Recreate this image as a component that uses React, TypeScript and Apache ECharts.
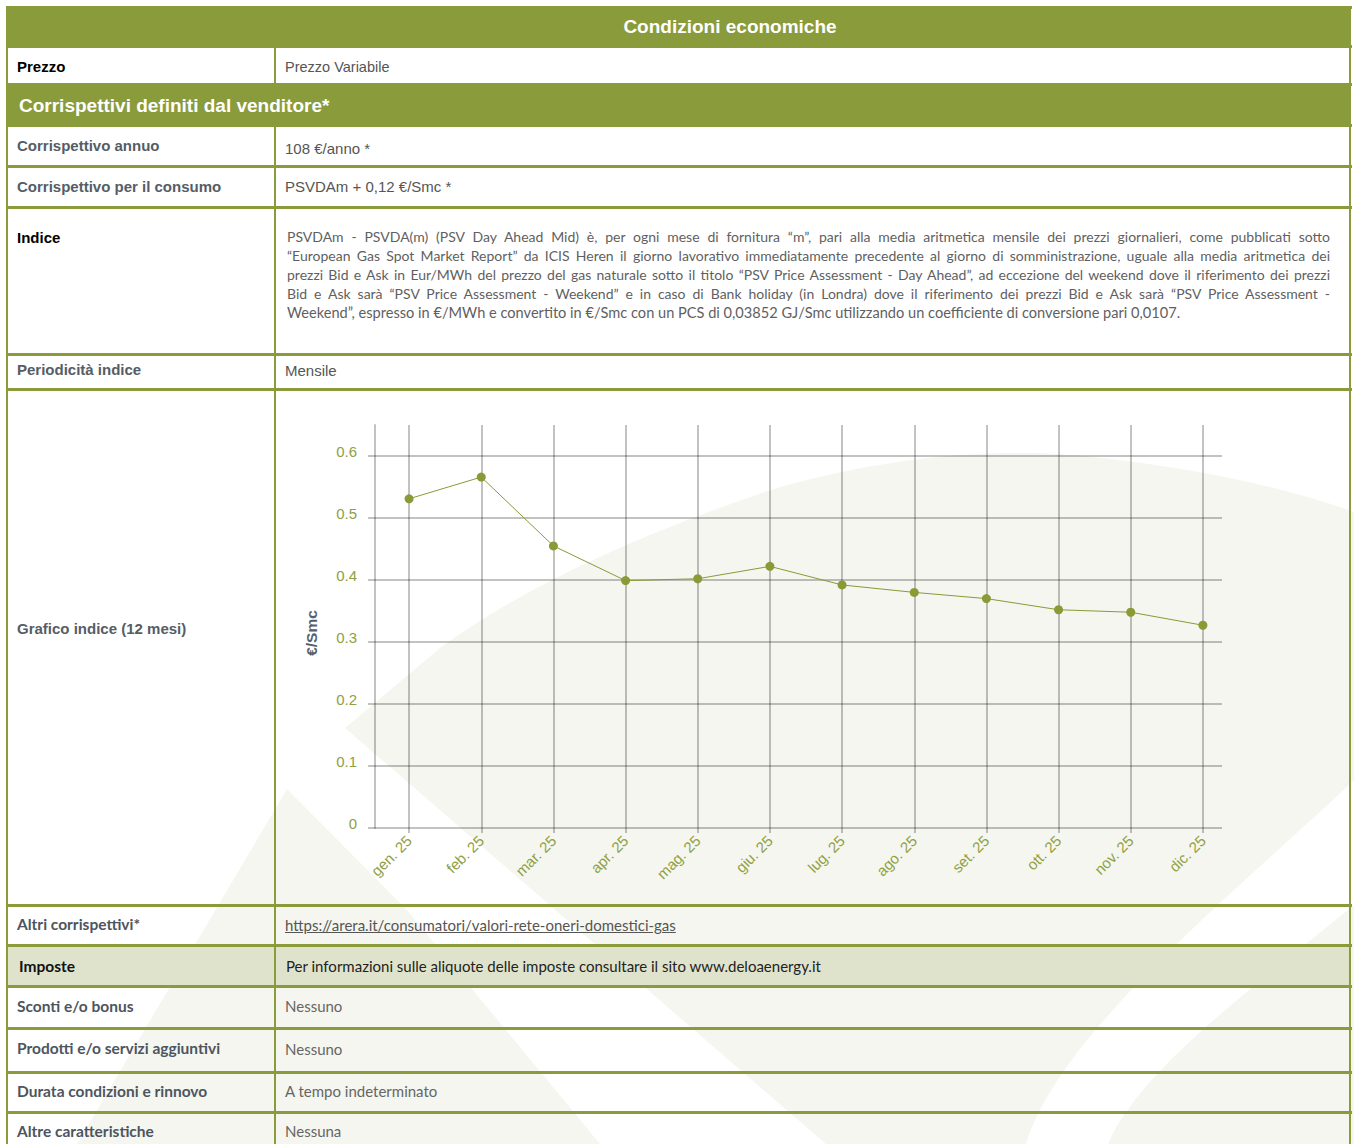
import React, { useEffect, useRef } from "react";
import * as echarts from "echarts";

// ---------- chart data ----------
const months = ["gen. 25", "feb. 25", "mar. 25", "apr. 25", "mag. 25", "giu. 25", "lug. 25", "ago. 25", "set. 25", "ott. 25", "nov. 25", "dic. 25"];
const psvValues = [0.531, 0.566, 0.455, 0.399, 0.402, 0.422, 0.392, 0.38, 0.37, 0.352, 0.348, 0.327];
const yMin = 0;
const yMax = 0.6;
const yStep = 0.1;
const yAxisName = "€/Smc";

// ---------- table texts ----------
const headerTitle = "Condizioni economiche";
const sectionTitle = "Corrispettivi definiti dal venditore*";
const indiceLines = [
  "PSVDAm - PSVDA(m) (PSV Day Ahead Mid) è, per ogni mese di fornitura “m”, pari alla media aritmetica mensile dei prezzi giornalieri, come pubblicati sotto",
  "“European Gas Spot Market Report” da ICIS Heren il giorno lavorativo immediatamente precedente al giorno di somministrazione, uguale alla media aritmetica dei",
  "prezzi Bid e Ask in Eur/MWh del prezzo del gas naturale sotto il titolo “PSV Price Assessment - Day Ahead”, ad eccezione del weekend dove il riferimento dei prezzi",
  "Bid e Ask sarà “PSV Price Assessment - Weekend” e in caso di Bank holiday (in Londra) dove il riferimento dei prezzi Bid e Ask sarà “PSV Price Assessment -",
  "Weekend”, espresso in €/MWh e convertito in €/Smc con un PCS di 0,03852 GJ/Smc utilizzando un coefficiente di conversione pari 0,0107.",
];

const OLIVE = "#8a9b3b";
const LABEL_OLIVE = "#8fa043";
const GRID_GRAY = "rgba(0,0,0,0.24)";
const SHAPE = "#f5f6ef";
const ARIAL = '"Liberation Sans", Arial, sans-serif';
const NARROW = '"Liberation Sans Narrow", "Arial Narrow", "Liberation Sans", sans-serif';
const LATO = 'Lato, "Open Sans", sans-serif';

const hLines = [7, 46, 84, 125, 166, 207, 354, 389, 905, 945, 986, 1028, 1072, 1112];

const swooshD =
  "M345,728 L440,648 Q560,560 780,487 Q950,440 1102,458 Q1250,475 1354,512 L1354,780 C1250,880 1060,1030 1026,1144 L826,1144 Z";
const cornerD = "M1354,905 C1250,990 1140,1070 1108,1144 L1354,1144 Z";
const chevronD = "M287,789 L407,910 L600,1144 L77,1144 Z";

function Chart() {
  const ref = useRef<HTMLDivElement>(null);
  useEffect(() => {
    if (!ref.current) return;
    try {
      echarts.graphic.registerShape("bgSwoosh", echarts.graphic.extendPath(swooshD, {}) as any);
      echarts.graphic.registerShape("bgCorner", echarts.graphic.extendPath(cornerD, {}) as any);
      echarts.graphic.registerShape("bgChevron", echarts.graphic.extendPath(chevronD, {}) as any);
    } catch (e) {}
    const chart = echarts.init(ref.current, null, { renderer: "svg" });
    const tickLine = { color: GRID_GRAY, width: 2 };
    chart.setOption({
      animation: false,
      backgroundColor: "#ffffff",
      graphic: [
        { type: "bgSwoosh", x: 0, y: 0, z: -10, silent: true, style: { fill: SHAPE } },
        { type: "bgCorner", x: 0, y: 0, z: -10, silent: true, style: { fill: SHAPE } },
        { type: "bgChevron", x: 0, y: 0, z: -10, silent: true, style: { fill: SHAPE } },
      ],
      grid: [
        { left: 373, right: 115, top: 425, bottom: 316 },
        { left: 375, right: 132, top: 456, bottom: 316 },
      ],
      xAxis: [
        {
          gridIndex: 0,
          type: "category",
          data: months,
          boundaryGap: true,
          axisLine: { show: false },
          axisTick: { show: true, alignWithLabel: true, length: 5, lineStyle: tickLine },
          splitLine: { show: true, alignWithLabel: true, lineStyle: tickLine },
          axisLabel: { rotate: 45, color: LABEL_OLIVE, fontSize: 15, margin: 10, fontFamily: ARIAL },
        },
        { gridIndex: 1, type: "value", show: false, min: 0, max: 1 },
      ],
      yAxis: [
        {
          gridIndex: 0,
          type: "value",
          min: yMin,
          max: 0.65,
          offset: -2,
          axisLabel: { show: false },
          axisTick: { show: false },
          splitLine: { show: false },
          axisLine: { show: true, lineStyle: tickLine },
        },
        {
          gridIndex: 1,
          type: "value",
          min: yMin,
          max: yMax,
          interval: yStep,
          name: yAxisName,
          nameLocation: "middle",
          nameGap: 56,
          nameTextStyle: { color: "#555f6b", fontWeight: "bold", fontSize: 15.5, fontFamily: ARIAL, padding: [0, 0, 0, 18] },
          axisLine: { show: false },
          axisTick: { show: true, length: 7, lineStyle: tickLine },
          splitLine: { show: true, lineStyle: tickLine },
          axisLabel: {
            color: LABEL_OLIVE,
            fontSize: 15,
            margin: 18,
            fontFamily: ARIAL,
            verticalAlign: "bottom",
            lineHeight: 9,
            formatter: (v: number) => (v === 0 ? "0" : String(Math.round(v * 10) / 10)),
          },
        },
      ],
      series: [
        {
          type: "line",
          xAxisIndex: 0,
          yAxisIndex: 0,
          data: psvValues,
          symbol: "circle",
          symbolSize: 9,
          lineStyle: { color: "#8a9a36", width: 1 },
          itemStyle: { color: "#8a9a36" },
          z: 5,
        },
      ],
    });
    return () => chart.dispose();
  }, []);
  return <div ref={ref} style={{ position: "absolute", left: 0, top: 0, width: 1354, height: 1144 }} />;
}

const Txt = ({ x, y, style, children }: any) => (
  <div
    style={{
      position: "absolute",
      left: x,
      top: y - 10,
      height: 20,
      lineHeight: "20px",
      whiteSpace: "nowrap",
      ...style,
    }}
  >
    {children}
  </div>
);

const labelArial = { fontFamily: ARIAL, fontWeight: "bold", fontSize: 15, color: "#555d66" };
const labelBlack = { fontFamily: ARIAL, fontWeight: "bold", fontSize: 15, color: "#000" };
const valueArial = { fontFamily: ARIAL, fontSize: 15, color: "#555" };
const labelLato = { fontFamily: LATO, fontWeight: 700, fontSize: 15.5, color: "#4d5560" };
const valueLato = { fontFamily: LATO, fontSize: 15, color: "#666" };

export default function App() {
  return (
    <div style={{ position: "absolute", left: 0, top: 0, width: 1354, height: 1144, overflow: "hidden", background: "#fff" }}>
      <Chart />
      <div style={{ position: "absolute", left: 0, top: 0, width: 1354, height: 1144, pointerEvents: "none" }}>
        {/* green bands */}
        <div style={{ position: "absolute", left: 6, top: 7, width: 1345, height: 39, background: OLIVE }} />
        <div style={{ position: "absolute", left: 6, top: 84, width: 1345, height: 41, background: OLIVE }} />
        <div style={{ position: "absolute", left: 7, top: 945, width: 1343, height: 41, background: "#e0e3cb" }} />
        {/* horizontal lines */}
        {hLines.map((y, i) => (
          <div key={"h" + i} style={{ position: "absolute", left: 6, top: y - 1, width: 1346, height: 2.5, background: OLIVE }} />
        ))}
        {/* vertical lines */}
        <div style={{ position: "absolute", left: 6, top: 7, width: 2, height: 1137, background: OLIVE }} />
        <div style={{ position: "absolute", left: 1349, top: 7, width: 2, height: 1137, background: OLIVE }} />
        <div style={{ position: "absolute", left: 274, top: 46, width: 2, height: 38, background: OLIVE }} />
        <div style={{ position: "absolute", left: 274, top: 125, width: 2, height: 1019, background: OLIVE }} />

        {/* texts */}
        <div style={{ position: "absolute", left: 430, top: 17, width: 600, height: 20, lineHeight: "20px", textAlign: "center", fontFamily: ARIAL, fontWeight: "bold", fontSize: 19, color: "#fff" }}>
          {headerTitle}
        </div>
        <Txt x={17} y={67} style={labelBlack}>Prezzo</Txt>
        <Txt x={285} y={67} style={{ fontFamily: NARROW, fontStretch: "condensed", fontSize: 14.5, color: "#555" }}>Prezzo Variabile</Txt>
        <Txt x={19} y={106} style={{ fontFamily: ARIAL, fontWeight: "bold", fontSize: 19, color: "#fff" }}>{sectionTitle}</Txt>
        <Txt x={17} y={146} style={labelArial}>Corrispettivo annuo</Txt>
        <Txt x={285} y={149} style={valueArial}>108 €/anno *</Txt>
        <Txt x={17} y={187} style={labelArial}>Corrispettivo per il consumo</Txt>
        <Txt x={285} y={187} style={valueArial}>PSVDAm + 0,12 €/Smc *</Txt>
        <Txt x={17} y={238} style={labelBlack}>Indice</Txt>
        {indiceLines.map((line, i) => {
          const last = i === indiceLines.length - 1;
          return (
            <div
              key={"p" + i}
              style={{
                position: "absolute",
                left: 287,
                top: 227 + i * 19,
                width: 1043,
                height: 19,
                lineHeight: "19px",
                whiteSpace: "nowrap",
                fontFamily: LATO,
                fontSize: last ? 14.6 : 14,
                wordSpacing: last ? 0 : -1.5,
                color: "#5f5f5f",
                textAlign: last ? "left" : "justify",
                textAlignLast: last ? "left" : "justify",
              } as any}
            >
              {line}
            </div>
          );
        })}
        <Txt x={17} y={370} style={labelArial}>Periodicità indice</Txt>
        <Txt x={285} y={371} style={valueArial}>Mensile</Txt>
        <Txt x={17} y={629} style={labelArial}>Grafico indice (12 mesi)</Txt>
        <Txt x={17} y={924} style={labelLato}>Altri corrispettivi*</Txt>
        <Txt x={285} y={925} style={{ ...valueLato, color: "#555", textDecoration: "underline" }}>https://arera.it/consumatori/valori-rete-oneri-domestici-gas</Txt>
        <Txt x={19} y={966} style={{ ...labelLato, color: "#111" }}>Imposte</Txt>
        <Txt x={286} y={966} style={{ ...valueLato, color: "#222" }}>Per informazioni sulle aliquote delle imposte consultare il sito www.deloaenergy.it</Txt>
        <Txt x={17} y={1006} style={labelLato}>Sconti e/o bonus</Txt>
        <Txt x={285} y={1006} style={valueLato}>Nessuno</Txt>
        <Txt x={17} y={1048} style={labelLato}>Prodotti e/o servizi aggiuntivi</Txt>
        <Txt x={285} y={1049} style={valueLato}>Nessuno</Txt>
        <Txt x={17} y={1091} style={labelLato}>Durata condizioni e rinnovo</Txt>
        <Txt x={285} y={1091} style={valueLato}>A tempo indeterminato</Txt>
        <Txt x={17} y={1131} style={labelLato}>Altre caratteristiche</Txt>
        <Txt x={285} y={1131} style={valueLato}>Nessuna</Txt>
      </div>
    </div>
  );
}
